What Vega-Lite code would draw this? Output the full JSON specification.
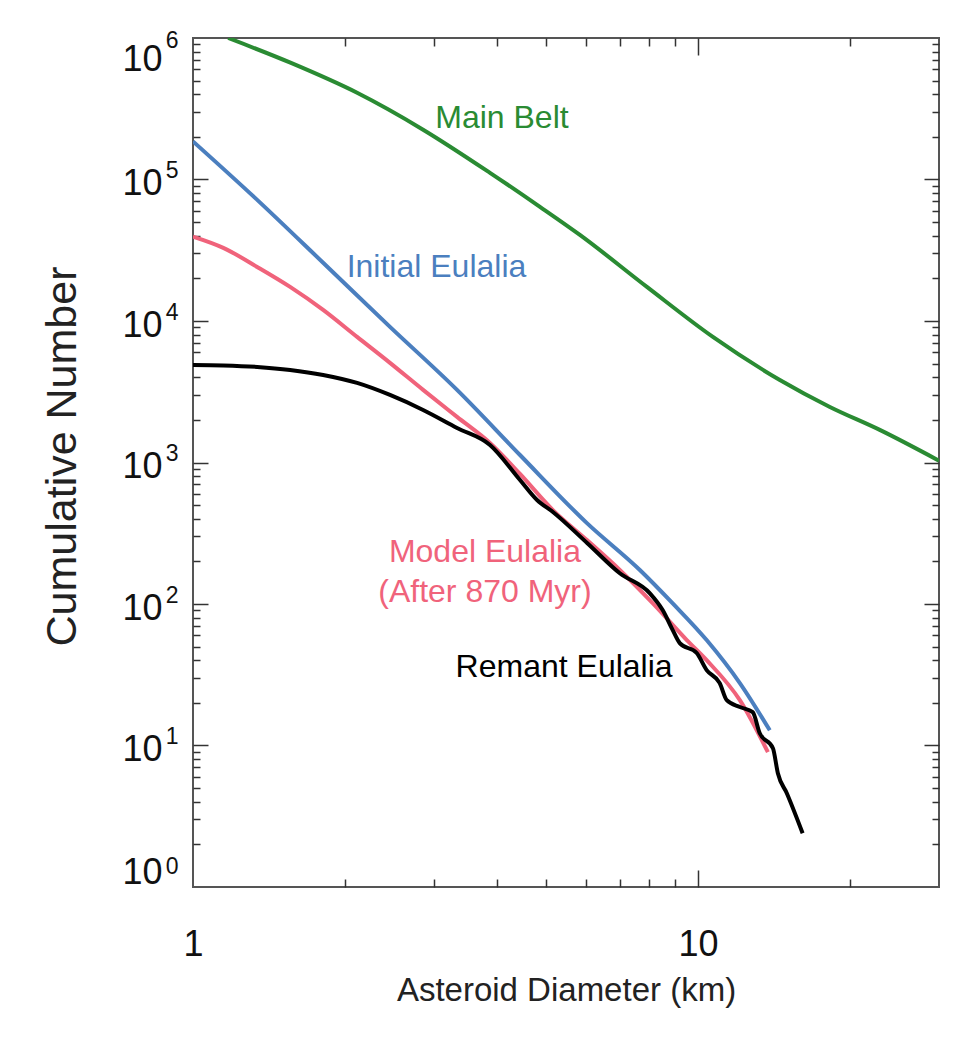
{
  "$schema": "https://vega.github.io/schema/vega-lite/v6.json",
  "width": 746,
  "height": 849,
  "autosize": {"type": "none"},
  "padding": {"left": 193, "top": 38, "right": 39, "bottom": 151},
  "background": "white",
  "config": {
    "view": {"stroke": "#555555", "strokeWidth": 2},
    "axis": {"domain": false, "grid": false, "labelFont": "Liberation Sans", "titleFont": "Liberation Sans", "labelColor": "#111111", "titleColor": "#222222", "tickColor": "#333333", "tickWidth": 1.5, "titleFontWeight": "normal"},
    "text": {"font": "Liberation Sans"}
  },
  "datasets": {
    "curves": [
      {"s": "Main Belt", "d": 1.174, "n": 1000000},
      {"s": "Main Belt", "d": 1.559, "n": 669000},
      {"s": "Main Belt", "d": 2.113, "n": 410000},
      {"s": "Main Belt", "d": 2.855, "n": 225000},
      {"s": "Main Belt", "d": 3.873, "n": 111500},
      {"s": "Main Belt", "d": 4.864, "n": 64100},
      {"s": "Main Belt", "d": 5.835, "n": 40600},
      {"s": "Main Belt", "d": 7.92, "n": 17420},
      {"s": "Main Belt", "d": 10.7, "n": 7720},
      {"s": "Main Belt", "d": 14.52, "n": 3830},
      {"s": "Main Belt", "d": 18.24, "n": 2470},
      {"s": "Main Belt", "d": 22.9, "n": 1700},
      {"s": "Main Belt", "d": 30, "n": 1030},
      {"s": "Initial Eulalia", "d": 1.0, "n": 186000},
      {"s": "Initial Eulalia", "d": 1.34, "n": 71800},
      {"s": "Initial Eulalia", "d": 1.81, "n": 25800},
      {"s": "Initial Eulalia", "d": 2.455, "n": 9090},
      {"s": "Initial Eulalia", "d": 3.333, "n": 3260},
      {"s": "Initial Eulalia", "d": 4.441, "n": 1130},
      {"s": "Initial Eulalia", "d": 6.026, "n": 373},
      {"s": "Initial Eulalia", "d": 7.67, "n": 174},
      {"s": "Initial Eulalia", "d": 8.91, "n": 101},
      {"s": "Initial Eulalia", "d": 10.4, "n": 55.6},
      {"s": "Initial Eulalia", "d": 12.1, "n": 27.6},
      {"s": "Initial Eulalia", "d": 13.87, "n": 12.8},
      {"s": "Model Eulalia", "d": 1.0, "n": 39500},
      {"s": "Model Eulalia", "d": 1.148, "n": 32900},
      {"s": "Model Eulalia", "d": 1.34, "n": 24100},
      {"s": "Model Eulalia", "d": 1.557, "n": 17420},
      {"s": "Model Eulalia", "d": 1.81, "n": 11980},
      {"s": "Model Eulalia", "d": 2.113, "n": 7720},
      {"s": "Model Eulalia", "d": 2.455, "n": 5060},
      {"s": "Model Eulalia", "d": 2.855, "n": 3260},
      {"s": "Model Eulalia", "d": 3.333, "n": 2100},
      {"s": "Model Eulalia", "d": 3.873, "n": 1374},
      {"s": "Model Eulalia", "d": 4.441, "n": 830},
      {"s": "Model Eulalia", "d": 5.16, "n": 461},
      {"s": "Model Eulalia", "d": 6.026, "n": 283},
      {"s": "Model Eulalia", "d": 7.0, "n": 174},
      {"s": "Model Eulalia", "d": 8.14, "n": 101},
      {"s": "Model Eulalia", "d": 9.5, "n": 55.6},
      {"s": "Model Eulalia", "d": 10.4, "n": 40.1},
      {"s": "Model Eulalia", "d": 12.1, "n": 20.9},
      {"s": "Model Eulalia", "d": 13.75, "n": 8.97},
      {"s": "Remant Eulalia", "d": 1.0, "n": 4890},
      {"s": "Remant Eulalia", "d": 1.148, "n": 4853},
      {"s": "Remant Eulalia", "d": 1.34, "n": 4736},
      {"s": "Remant Eulalia", "d": 1.557, "n": 4511},
      {"s": "Remant Eulalia", "d": 1.81, "n": 4157},
      {"s": "Remant Eulalia", "d": 2.113, "n": 3650},
      {"s": "Remant Eulalia", "d": 2.455, "n": 3001},
      {"s": "Remant Eulalia", "d": 2.855, "n": 2351},
      {"s": "Remant Eulalia", "d": 3.333, "n": 1754},
      {"s": "Remant Eulalia", "d": 3.873, "n": 1330},
      {"s": "Remant Eulalia", "d": 4.441, "n": 752},
      {"s": "Remant Eulalia", "d": 4.8, "n": 543},
      {"s": "Remant Eulalia", "d": 5.16, "n": 447},
      {"s": "Remant Eulalia", "d": 6.03, "n": 270},
      {"s": "Remant Eulalia", "d": 7.0, "n": 165},
      {"s": "Remant Eulalia", "d": 8.03, "n": 119},
      {"s": "Remant Eulalia", "d": 8.51, "n": 90.6},
      {"s": "Remant Eulalia", "d": 8.91, "n": 65.4},
      {"s": "Remant Eulalia", "d": 9.2, "n": 52.9},
      {"s": "Remant Eulalia", "d": 9.94, "n": 45.0},
      {"s": "Remant Eulalia", "d": 10.4, "n": 34.1},
      {"s": "Remant Eulalia", "d": 11.04, "n": 27.6},
      {"s": "Remant Eulalia", "d": 11.4, "n": 20.9},
      {"s": "Remant Eulalia", "d": 12.1, "n": 18.7},
      {"s": "Remant Eulalia", "d": 12.83, "n": 17.2},
      {"s": "Remant Eulalia", "d": 13.25, "n": 12.2},
      {"s": "Remant Eulalia", "d": 14.07, "n": 9.57},
      {"s": "Remant Eulalia", "d": 14.39, "n": 6.37},
      {"s": "Remant Eulalia", "d": 14.99, "n": 4.6},
      {"s": "Remant Eulalia", "d": 16.11, "n": 2.4}
    ],
    "notes": [
      {"s": "Main Belt", "label": "Main Belt", "d": 4.09, "n": 232000},
      {"s": "Initial Eulalia", "label": "Initial Eulalia", "d": 3.035, "n": 20500},
      {"s": "Model Eulalia", "label": "Model Eulalia\n(After 870 Myr)", "d": 3.785, "n": 198},
      {"s": "Remant Eulalia", "label": "Remant Eulalia", "d": 5.43, "n": 30.4}
    ]
  },
  "resolve": {"axis": {"x": "independent", "y": "independent"}},
  "layer": [
    {
      "data": {"name": "curves"},
      "transform": [{"filter": "datum.s !== 'Remant Eulalia'"}],
      "mark": {"type": "line", "interpolate": "monotone", "strokeWidth": 4, "clip": true},
      "encoding": {
        "x": {"field": "d", "type": "quantitative", "scale": {"type": "log", "domain": [1, 30], "nice": false},
          "axis": {"orient": "bottom", "values": [1, 10], "labelExpr": "datum.value < 5 ? '1' : '10'", "ticks": false, "labelFontSize": 36, "labelPadding": 40, "labelFlush": false,
            "title": "Asteroid Diameter (km)", "titleFontSize": 33, "titleBaseline": "alphabetic", "titleY": 113}},
        "y": {"field": "n", "type": "quantitative", "scale": {"type": "log", "domain": [1, 1000000], "nice": false},
          "axis": {"orient": "left", "values": [1, 10, 100, 1000, 10000, 100000, 1000000], "labelExpr": "'10'", "ticks": false, "labelFontSize": 36, "labelPadding": 31, "labelOffset": 4, "labelFlush": true,
            "title": "Cumulative Number", "titleFontSize": 43, "titleBaseline": "alphabetic", "titleX": -118, "titleY": 418, "titleAlign": "center"}},
        "color": {"field": "s", "type": "nominal", "scale": {"domain": ["Main Belt", "Initial Eulalia", "Model Eulalia", "Remant Eulalia"], "range": ["#2a8b33", "#4b7fbf", "#f0637b", "#000000"]}, "legend": null}
      }
    },
    {
      "data": {"name": "curves"},
      "transform": [{"filter": "datum.s === 'Remant Eulalia'"}],
      "mark": {"type": "line", "interpolate": "monotone", "strokeWidth": 4, "clip": true},
      "encoding": {
        "x": {"field": "d", "type": "quantitative", "scale": {"type": "log", "domain": [1, 30], "nice": false},
          "axis": {"orient": "bottom", "values": [10], "labels": false, "tickSize": -17, "title": null}},
        "y": {"field": "n", "type": "quantitative", "scale": {"type": "log", "domain": [1, 1000000], "nice": false},
          "axis": {"orient": "left", "values": [10, 100, 1000, 10000, 100000], "labels": false, "tickSize": -15, "title": null}},
        "color": {"field": "s", "type": "nominal", "scale": {"domain": ["Main Belt", "Initial Eulalia", "Model Eulalia", "Remant Eulalia"], "range": ["#2a8b33", "#4b7fbf", "#f0637b", "#000000"]}, "legend": null}
      }
    },
    {
      "data": {"name": "curves"},
      "mark": {"type": "point", "opacity": 0},
      "encoding": {
        "x": {"field": "d", "type": "quantitative", "scale": {"type": "log", "domain": [1, 30], "nice": false},
          "axis": {"orient": "bottom", "values": [2, 3, 4, 5, 6, 7, 8, 9, 20], "labels": false, "tickSize": -8, "title": null}},
        "y": {"field": "n", "type": "quantitative", "scale": {"type": "log", "domain": [1, 1000000], "nice": false},
          "axis": {"orient": "left", "values": [2, 3, 4, 5, 6, 7, 8, 9, 20, 30, 40, 50, 60, 70, 80, 90, 200, 300, 400, 500, 600, 700, 800, 900, 2000, 3000, 4000, 5000, 6000, 7000, 8000, 9000, 20000, 30000, 40000, 50000, 60000, 70000, 80000, 90000, 200000, 300000, 400000, 500000, 600000, 700000, 800000, 900000], "labels": false, "tickSize": -7, "title": null}}
      }
    },
    {
      "data": {"name": "curves"},
      "mark": {"type": "point", "opacity": 0},
      "encoding": {
        "x": {"field": "d", "type": "quantitative", "scale": {"type": "log", "domain": [1, 30], "nice": false},
          "axis": {"orient": "top", "values": [10], "labels": false, "tickSize": -17, "title": null}},
        "y": {"field": "n", "type": "quantitative", "scale": {"type": "log", "domain": [1, 1000000], "nice": false},
          "axis": {"orient": "right", "values": [10, 100, 1000, 10000, 100000], "labels": false, "tickSize": -15, "title": null}}
      }
    },
    {
      "data": {"name": "curves"},
      "mark": {"type": "point", "opacity": 0},
      "encoding": {
        "x": {"field": "d", "type": "quantitative", "scale": {"type": "log", "domain": [1, 30], "nice": false},
          "axis": {"orient": "top", "values": [2, 3, 4, 5, 6, 7, 8, 9, 20], "labels": false, "tickSize": -8, "title": null}},
        "y": {"field": "n", "type": "quantitative", "scale": {"type": "log", "domain": [1, 1000000], "nice": false},
          "axis": {"orient": "right", "values": [2, 3, 4, 5, 6, 7, 8, 9, 20, 30, 40, 50, 60, 70, 80, 90, 200, 300, 400, 500, 600, 700, 800, 900, 2000, 3000, 4000, 5000, 6000, 7000, 8000, 9000, 20000, 30000, 40000, 50000, 60000, 70000, 80000, 90000, 200000, 300000, 400000, 500000, 600000, 700000, 800000, 900000], "labels": false, "tickSize": -7, "title": null}}
      }
    },
    {
      "data": {"name": "notes"},
      "mark": {"type": "text", "fontSize": 32, "align": "center", "baseline": "alphabetic", "lineBreak": "\n", "lineHeight": 40},
      "encoding": {
        "x": {"field": "d", "type": "quantitative", "scale": {"type": "log", "domain": [1, 30], "nice": false}, "axis": null},
        "y": {"field": "n", "type": "quantitative", "scale": {"type": "log", "domain": [1, 1000000], "nice": false},
          "axis": {"orient": "left", "values": [1, 10, 100, 1000, 10000, 100000, 1000000], "labelExpr": "'' + round(log(datum.value) / LN10)", "ticks": false, "labelFontSize": 23, "labelPadding": 15, "labelOffset": -9, "labelFlush": true, "title": null}},
        "text": {"field": "label", "type": "nominal"},
        "color": {"field": "s", "type": "nominal", "scale": {"domain": ["Main Belt", "Initial Eulalia", "Model Eulalia", "Remant Eulalia"], "range": ["#2a8b33", "#4b7fbf", "#f0637b", "#000000"]}, "legend": null}
      }
    }
  ]
}
